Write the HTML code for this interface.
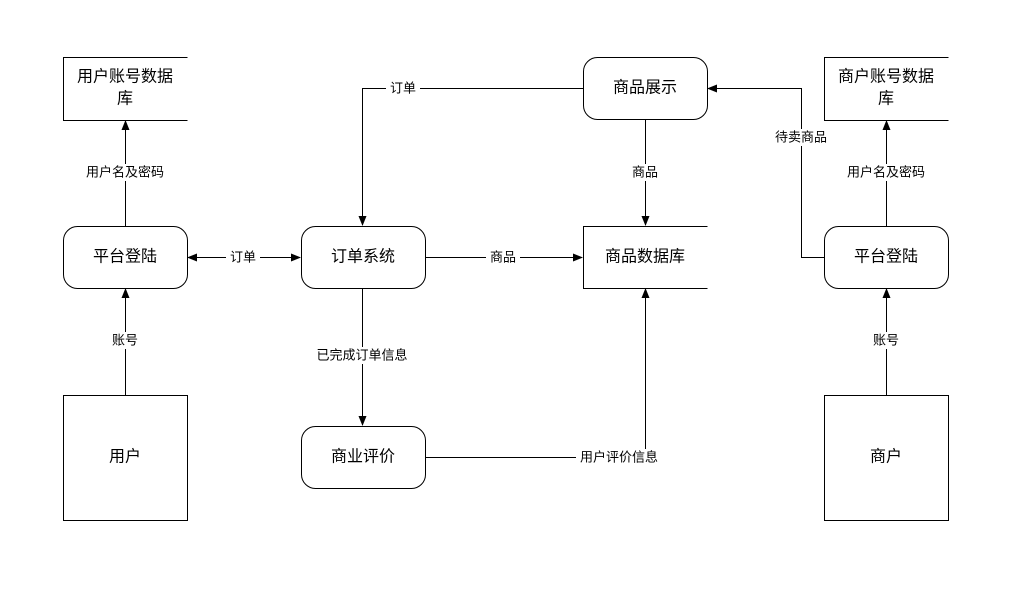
<!DOCTYPE html>
<html><head><meta charset="utf-8"><style>
html,body{margin:0;padding:0;background:#fff;}
svg{display:block;}
text{font-family:"Liberation Sans","Noto Sans CJK SC",sans-serif;fill:#000;}
.n{font-size:16px;text-anchor:middle;dominant-baseline:central;}
.l{font-size:13px;text-anchor:middle;dominant-baseline:central;}
.bg{fill:#fff;}
</style></head><body>
<svg width="1023" height="596" viewBox="0 0 1023 596" xmlns="http://www.w3.org/2000/svg">
<defs><marker id="a" markerWidth="10" markerHeight="10" refX="9" refY="5" orient="auto" markerUnits="userSpaceOnUse"><path d="M0,1 L10,5 L0,9 z" fill="#000"/></marker>
<marker id="s" markerWidth="10" markerHeight="10" refX="1" refY="5" orient="auto" markerUnits="userSpaceOnUse"><path d="M10,1 L0,5 L10,9 z" fill="#000"/></marker></defs>
<g stroke="#000" stroke-width="1" fill="none">
<!-- data stores -->
<path d="M187.5,57.5 H63.5 V120.5 H187.5"/>
<path d="M948.5,57.5 H824.5 V120.5 H948.5"/>
<path d="M707.5,226.5 H583.5 V288.5 H707.5"/>
<!-- rounded -->
<rect x="63.5" y="226.5" width="124" height="62" rx="14" fill="#fff"/>
<rect x="301.5" y="226.5" width="124" height="62" rx="14" fill="#fff"/>
<rect x="583.5" y="57.5" width="124" height="62" rx="14" fill="#fff"/>
<rect x="824.5" y="226.5" width="124" height="62" rx="14" fill="#fff"/>
<rect x="301.5" y="426.5" width="124" height="62" rx="14" fill="#fff"/>
<rect x="63.5" y="395.5" width="124" height="125" fill="#fff"/>
<rect x="824.5" y="395.5" width="124" height="125" fill="#fff"/>
<!-- edges -->
<path d="M125.5,226 V121" marker-end="url(#a)"/>
<path d="M125.5,395 V289" marker-end="url(#a)"/>
<path d="M188,257.5 H300" marker-start="url(#s)" marker-end="url(#a)"/>
<path d="M426,257.5 H582" marker-end="url(#a)"/>
<path d="M583,88.5 H362.5 V225" marker-end="url(#a)"/>
<path d="M645.5,120 V225" marker-end="url(#a)"/>
<path d="M362.5,289 V425" marker-end="url(#a)"/>
<path d="M426,457.5 H645.5 V289" marker-end="url(#a)"/>
<path d="M824,257.5 H801.5 V88.5 H708" marker-end="url(#a)"/>
<path d="M886.5,226 V121" marker-end="url(#a)"/>
<path d="M886.5,395 V289" marker-end="url(#a)"/>
</g>
<!-- label backgrounds -->
<rect class="bg" x="80" y="164" width="90" height="17"/>
<rect class="bg" x="106" y="332" width="38" height="17"/>
<rect class="bg" x="226" y="249" width="34" height="17"/>
<rect class="bg" x="486" y="249" width="34" height="17"/>
<rect class="bg" x="386" y="80" width="34" height="17"/>
<rect class="bg" x="627" y="164" width="36" height="17"/>
<rect class="bg" x="311" y="347" width="102" height="17"/>
<rect class="bg" x="576" y="449" width="86" height="17"/>
<rect class="bg" x="770" y="129" width="62" height="17"/>
<rect class="bg" x="841" y="164" width="90" height="17"/>
<rect class="bg" x="867" y="332" width="38" height="17"/>
<!-- node text -->
<text class="n" x="125" y="77">用户账号数据</text>
<text class="n" x="125" y="99">库</text>
<text class="n" x="886" y="77">商户账号数据</text>
<text class="n" x="886" y="99">库</text>
<text class="n" x="645" y="257">商品数据库</text>
<text class="n" x="125" y="257">平台登陆</text>
<text class="n" x="363" y="257">订单系统</text>
<text class="n" x="645" y="88">商品展示</text>
<text class="n" x="886" y="257">平台登陆</text>
<text class="n" x="363" y="457">商业评价</text>
<text class="n" x="125" y="457">用户</text>
<text class="n" x="886" y="457">商户</text>
<!-- labels -->
<text class="l" x="125" y="172">用户名及密码</text>
<text class="l" x="125" y="340">账号</text>
<text class="l" x="243" y="257">订单</text>
<text class="l" x="503" y="257">商品</text>
<text class="l" x="403" y="88">订单</text>
<text class="l" x="645" y="172">商品</text>
<text class="l" x="362" y="355">已完成订单信息</text>
<text class="l" x="619" y="457">用户评价信息</text>
<text class="l" x="801" y="137">待卖商品</text>
<text class="l" x="886" y="172">用户名及密码</text>
<text class="l" x="886" y="340">账号</text>
</svg>
</body></html>
